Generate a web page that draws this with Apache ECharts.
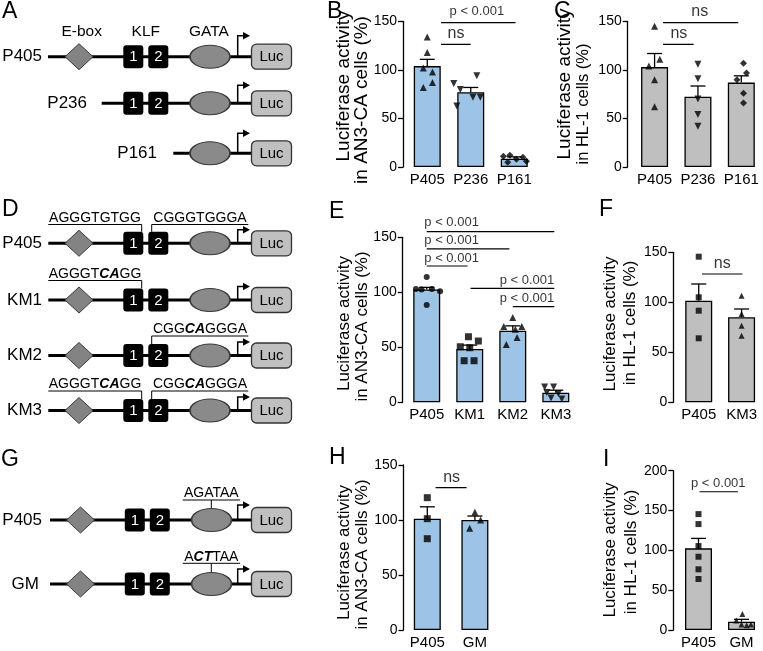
<!DOCTYPE html>
<html><head><meta charset="utf-8">
<script src="https://cdn.jsdelivr.net/npm/echarts@6.0.0/dist/echarts.min.js"></script>
<style>html,body{margin:0;padding:0;background:#fff}#c{width:763px;height:651px}</style>
</head><body><div id="c"></div>
<script>
const FONT = '"Liberation Sans", Arial, Helvetica, sans-serif';
const BLUE = '#9dc3e6', GREY = '#bfbfbf';

// ---------------- DATA ----------------
// Panel B (AN3-CA, deletion constructs)
const bCats = ['P405', 'P236', 'P161'];
const bMean = [104, 77, 8.5];
const bErrTop = [111, 82, 10.5];
const bP405 = [134, 118, 102, 98, 82, 87];
const bP405Jit = [0, 0, -0.09, 0.12, -0.09, 0.12];
const bP236 = [86, 94, 80, 72, 72, 63];
const bP236Jit = [-0.39, 0.14, -0.24, 0.05, 0.22, -0.32];
const bP161 = [11, 12, 8, 10, 5, 6];
const bP161Jit = [-0.25, -0.1, 0.05, 0.2, -0.15, 0.28];

// Panel C (HL-1, deletion constructs)
const cCats = ['P405', 'P236', 'P161'];
const cMean = [103, 72.5, 87];
const cErrTop = [117, 83.5, 94];
const cP405 = [145, 111, 104, 90, 62];
const cP405Jit = [0, 0.12, -0.13, 0, 0];
const cP236 = [106, 91, 70, 54, 42];
const cP236Jit = [0, 0, 0, 0, 0];
const cP161 = [107, 97, 90, 76, 66];
const cP161Jit = [0.05, 0.12, -0.1, 0.05, 0.05];

// Panel E (AN3-CA, KLF mutants)
const eCats = ['P405', 'KM1', 'KM2', 'KM3'];
const eMean = [102.5, 48.5, 65, 8.7];
const eErrTop = [104.5, 52, 69.5, 11];
const eP405 = [114, 103, 102.5, 103, 101, 88.5];
const eP405Jit = [0, -0.25, -0.12, 0.12, 0.31, 0];
const eKM1 = [59.6, 55.7, 50.5, 49.6, 37.8, 37.8];
const eKM1Jit = [-0.03, 0.2, -0.22, 0, -0.13, 0.1];
const eKM2 = [77, 69, 69, 66.5, 59, 52.5];
const eKM2Jit = [0, -0.21, 0.21, 0.06, 0.1, -0.15];
const eKM3 = [14, 14, 9, 8, 4, 3];
const eKM3Jit = [-0.26, -0.05, -0.21, 0.06, -0.11, 0.14];

// Panel F (HL-1, KLF mutant)
const fCats = ['P405', 'KM3'];
const fMean = [101.6, 85];
const fErrTop = [118.3, 93.3];
const fP405 = [145.6, 105, 91.6, 64];
const fP405Jit = [0, 0, 0, 0];
const fKM3 = [106.6, 88.3, 76.6, 66.6];
const fKM3Jit = [0, 0, 0, 0];

// Panel H (AN3-CA, GATA mutant)
const hCats = ['P405', 'GM'];
const hMean = [101.2, 100];
const hErrTop = [112, 103.6];
const hP405 = [120.3, 101.2, 83];
const hP405Jit = [0, 0, 0];
const hGM = [107, 100, 92.5];
const hGMJit = [0, 0.12, -0.11];

// Panel I (HL-1, GATA mutant)
const iCats = ['P405', 'GM'];
const iMean = [102.5, 10.4];
const iErrTop = [115, 13.4];
const iP405 = [145.5, 133, 105.4, 92, 76.2, 64];
const iP405Jit = [0, 0, 0, 0, 0, 0];
const iGM = [20, 12, 7, 6, 7];
const iGMJit = [0.02, -0.12, 0, 0.12, 0.22];

// axis ranges / tick labels
const yMaxStd = 150, yMaxI = 200, yStep = 50;

// significance annotations: [x1, x2, yLine, text, textX, textY, align]
const bSig = [[0.317, 2.03, 148.8, 'p < 0.001', 1.14, 160, 'center'], [0.317, 1.0, 126.5, 'ns', 0.66, 137.5, 'center']];
const cSig = [[0.196, 1.93, 148.8, 'ns', 1.04, 160, 'center'], [0.196, 0.9, 126.5, 'ns', 0.56, 137.5, 'center']];
const eSig = [[0, 2.965, 155.1, 'p < 0.001', -0.056, 163.3, 'left'], [0, 1.92, 139.4, 'p < 0.001', -0.056, 146.9, 'left'],
              [0, 0.95, 123.9, 'p < 0.001', -0.056, 130.9, 'left'], [1.02, 2.965, 103.6, 'p < 0.001', 2.965, 111.2, 'right'],
              [2.0, 2.965, 86.9, 'p < 0.001', 2.965, 94.5, 'right']];
const fSig = [[0.077, 1.02, 128.3, 'ns', 0.55, 138.5, 'center']];
const hSig = [[0.174, 0.826, 129.4, 'ns', 0.51, 139, 'center']];
const iSig = [[0.023, 0.916, 173.6, 'p < 0.001', 0.46, 184.2, 'center']];

// ---------------- LAYOUT ----------------
const panels = [
  { cats: bCats, mean: bMean, err: bErrTop, color: BLUE, ymax: yMaxStd, sig: bSig,
    groups: [[bP405, bP405Jit, 'triangle', 7], [bP236, bP236Jit, 'tridown', 7], [bP161, bP161Jit, 'diamond', 7]],
    L: { axisX: 403, left: 405.5, band: 43.5, top: 21.5, bottom: 167 },
    title: ['Luciferase activity', 'in AN3-CA cells (%)'], tpos: [[344, 86, 19], [362, 100, 19]] },
  { cats: cCats, mean: cMean, err: cErrTop, color: GREY, ymax: yMaxStd, sig: cSig,
    groups: [[cP405, cP405Jit, 'triangle', 7], [cP236, cP236Jit, 'tridown', 7], [cP161, cP161Jit, 'diamond', 7]],
    L: { axisX: 627.7, left: 632.9, band: 43.65, top: 21.5, bottom: 167 },
    title: ['Luciferase activity', 'in HL-1 cells (%)'], tpos: [[565, 84, 19], [583, 104, 16.5]] },
  { cats: eCats, mean: eMean, err: eErrTop, color: BLUE, ymax: yMaxStd, sig: eSig,
    groups: [[eP405, eP405Jit, 'circle', 6], [eKM1, eKM1Jit, 'rect', 7], [eKM2, eKM2Jit, 'triangle', 7], [eKM3, eKM3Jit, 'tridown', 7]],
    L: { axisX: 402.7, left: 405.2, band: 43.03, top: 237.3, bottom: 402.3 },
    title: ['Luciferase activity', 'in AN3-CA cells (%)'], tpos: [[344, 323.5, 17], [362, 326.5, 17]] },
  { cats: fCats, mean: fMean, err: fErrTop, color: GREY, ymax: yMaxStd, sig: fSig,
    groups: [[fP405, fP405Jit, 'rect', 6], [fKM3, fKM3Jit, 'triangle', 6]],
    L: { axisX: 673.3, left: 677.3, band: 43.3, top: 252.3, bottom: 402.3 },
    title: ['Luciferase activity', 'in HL-1 cells (%)'], tpos: [[610, 324, 17], [630, 323, 17]] },
  { cats: hCats, mean: hMean, err: hErrTop, color: BLUE, ymax: yMaxStd, sig: hSig,
    groups: [[hP405, hP405Jit, 'rect', 7], [hGM, hGMJit, 'triangle', 7]],
    L: { axisX: 403.5, left: 403.5, band: 47.6, top: 465, bottom: 630 },
    title: ['Luciferase activity', 'in AN3-CA cells (%)'], tpos: [[344, 552.5, 17], [362, 554.5, 17]] },
  { cats: iCats, mean: iMean, err: iErrTop, color: GREY, ymax: yMaxI, sig: iSig,
    groups: [[iP405, iP405Jit, 'rect', 6], [iGM, iGMJit, 'triangle', 6]],
    L: { axisX: 673.3, left: 677, band: 44, top: 470.7, bottom: 630 },
    title: ['Luciferase activity', 'in HL-1 cells (%)'], tpos: [[610, 550, 17], [631, 552, 17]] }
];

function errRender(params, api) {
  const x = api.value(0);
  const b = api.coord([x, api.value(1)]);
  const t = api.coord([x, api.value(2)]);
  return { type: 'group', children: [
    { type: 'line', shape: { x1: b[0], y1: b[1], x2: t[0], y2: t[1] }, style: { stroke: '#000', lineWidth: 1.3 } },
    { type: 'line', shape: { x1: t[0] - 7.5, y1: t[1], x2: t[0] + 7.5, y2: t[1] }, style: { stroke: '#000', lineWidth: 1.3 } }
  ]};
}

const grid = [], xAxis = [], yAxis = [], series = [], graphic = [];

function txt(x, y, s, size, opt) {
  opt = opt || {};
  return { type: 'text', x: x, y: y, rotation: opt.rot || 0, silent: true, z: 10,
    style: { text: s, fontSize: size, fontFamily: FONT, fill: opt.fill || '#000',
      fontWeight: opt.weight || 'normal',
      align: opt.align || 'center', verticalAlign: opt.va || 'middle',
      textAlign: opt.align || 'center', textVerticalAlign: opt.va || 'middle',
      rich: opt.rich } };
}

panels.forEach((p, i) => {
  const L = p.L, cx = 2 * i, vx = 2 * i + 1;
  grid.push({ left: L.left, top: L.top, width: L.band * p.cats.length, height: L.bottom - L.top });
  xAxis.push({ gridIndex: i, type: 'category', data: p.cats, axisLine: { show: false, onZero: false }, axisTick: { show: false },
    axisLabel: { color: '#000', fontSize: 15, fontFamily: FONT, margin: 5, interval: 0 } });
  xAxis.push({ gridIndex: i, type: 'value', min: -0.5, max: p.cats.length - 0.5, show: false, axisLine: { onZero: false } });
  yAxis.push({ gridIndex: i, type: 'value', min: 0, max: p.ymax, interval: yStep, offset: L.left - L.axisX,
    splitLine: { show: false },
    axisLine: { show: true, onZero: false, lineStyle: { color: '#000', width: 1.3 } },
    axisTick: { show: true, length: 5, lineStyle: { color: '#000', width: 1.3 } },
    axisLabel: { color: '#000', fontSize: 14, fontFamily: FONT, margin: 6 } });
  series.push({ type: 'bar', xAxisIndex: cx, yAxisIndex: i, data: p.mean, barWidth: 27, silent: true,
    itemStyle: { color: p.color, borderColor: '#000', borderWidth: 1.3 } });
  series.push({ type: 'custom', xAxisIndex: cx, yAxisIndex: i, z: 3, silent: true,
    data: p.mean.map((m, k) => [k, m, p.err[k]]), renderItem: errRender });
  p.groups.forEach((g, k) => {
    const down = g[2] === 'tridown';
    series.push({ type: 'scatter', xAxisIndex: vx, yAxisIndex: i, z: 5, silent: true, clip: false,
      symbol: down ? 'triangle' : g[2], symbolRotate: down ? 180 : 0, symbolSize: g[3],
      itemStyle: { color: '#000' }, data: g[0].map((v, n) => [k + g[1][n], v]) });
  });
  p.sig.forEach(s => {
    series.push({ type: 'line', xAxisIndex: vx, yAxisIndex: i, z: 4, silent: true, clip: false, symbol: 'none',
      lineStyle: { color: '#000', width: 1.2 }, data: [[s[0], s[2]], [s[1], s[2]]] });
  });
  series.push({ type: 'scatter', xAxisIndex: vx, yAxisIndex: i, z: 6, silent: true, clip: false, symbolSize: 0,
    itemStyle: { color: 'transparent' },
    data: p.sig.map(s => ({ value: [s[4], s[5]],
      label: { show: true, position: 'inside', formatter: s[3], align: s[6], verticalAlign: 'middle',
        fontSize: s[3] === 'ns' ? 16 : 13, fontFamily: FONT, color: '#000' } })) });
  p.title.forEach((t, k) => graphic.push(txt(p.tpos[k][0], p.tpos[k][1], t, p.tpos[k][2], { rot: Math.PI / 2 })));
});

// ---------------- SCHEMATICS ----------------
function construct(y, o) {
  const dx = o.dx || 0, ah = o.ah || 20;
  const els = [];
  els.push({ type: 'line', shape: { x1: o.x0, y1: y, x2: 251, y2: y }, style: { stroke: '#000', lineWidth: 3 } });
  if (o.ebox) els.push({ type: 'polygon', shape: { points: [[79 + dx, y - 13], [93 + dx, y], [79 + dx, y + 13], [65 + dx, y]] },
    style: { fill: '#838383', stroke: '#3a3a3a', lineWidth: 1 } });
  if (o.klf) [0, 1].forEach(k => {
    els.push({ type: 'rect', shape: { x: 123.3 + dx + 25 * k, y: y - 11.5, width: 20, height: 23, r: 3 }, style: { fill: '#000' } });
    els.push(txt(133.3 + dx + 25 * k, y + 0.5, String(k + 1), 15, { fill: '#fff' }));
  });
  els.push({ type: 'circle', x: 210 + dx, y: y, scaleX: 20 / 11.5, shape: { cx: 0, cy: 0, r: 11.5 },
    style: { fill: '#8a8a8a', stroke: '#3a3a3a', lineWidth: 1, strokeNoScale: true } });
  els.push({ type: 'polyline', shape: { points: [[237.7, y], [237.7, y - ah], [244, y - ah]] },
    style: { stroke: '#000', lineWidth: 1.5, fill: null } });
  els.push({ type: 'polygon', shape: { points: [[243, y - ah - 3.8], [250, y - ah], [243, y - ah + 3.8]] }, style: { fill: '#000' } });
  els.push({ type: 'rect', shape: { x: 251.5, y: y - 12.5, width: 40, height: 25, r: 5 },
    style: { fill: '#c0c0c0', stroke: '#333', lineWidth: 1.3 } });
  els.push(txt(271.5, y + 0.5, 'Luc', 15));
  els.push(txt(o.lx, y, o.label, 17, { align: 'right' }));
  els.forEach(e => { e.silent = true; e.z = e.z || 8; });
  return els;
}
const richSeq = {
  n: { fontSize: 14, fontFamily: FONT, fill: '#000', color: '#000' },
  b: { fontSize: 14, fontFamily: FONT, fill: '#000', color: '#000', fontWeight: 'bold', fontStyle: 'italic' }
};
function seq(cx, ul, x1, x2, str, connX, connY2) {
  const els = [];
  els.push(txt(cx, ul - 6.5, str, 14, { rich: richSeq }));
  els.push({ type: 'line', silent: true, shape: { x1: x1, y1: ul, x2: x2, y2: ul }, style: { stroke: '#000', lineWidth: 1 } });
  els.push({ type: 'line', silent: true, shape: { x1: connX, y1: ul, x2: connX, y2: connY2 }, style: { stroke: '#000', lineWidth: 1 } });
  return els;
}

// Panel A
graphic.push(...construct(56.7, { x0: 48, ebox: true, klf: true, label: 'P405', lx: 42, ah: 21 }));
graphic.push(...construct(103.3, { x0: 101.7, klf: true, label: 'P236', lx: 87, ah: 18 }));
graphic.push(...construct(153.3, { x0: 173.3, label: 'P161', lx: 157, ah: 20 }));
graphic.push(txt(81.7, 31.7, 'E-box', 15.5), txt(145.8, 31.7, 'KLF', 15.5), txt(209, 31.7, 'GATA', 15.5));

// Panel D
const dRows = [[243.3, 'P405'], [300, 'KM1'], [355.5, 'KM2'], [410.5, 'KM3']];
dRows.forEach(r => graphic.push(...construct(r[0], { x0: 48.3, ebox: true, klf: true, label: r[1], lx: 42, ah: 13.5 })));
graphic.push(...seq(95, 224.5, 48.3, 141.7, '{n|AGGGTGTGG}', 141.7, 243.3 - 11.5));
graphic.push(...seq(200, 224.5, 151.7, 248.3, '{n|CGGGTGGGA}', 151.7, 243.3 - 11.5));
graphic.push(...seq(95, 280.5, 48.3, 141.7, '{n|AGGGT}{b|CA}{n|GG}', 141.7, 300 - 11.5));
graphic.push(...seq(200, 336, 151.7, 248.3, '{n|CGG}{b|CA}{n|GGGA}', 151.7, 355.5 - 11.5));
graphic.push(...seq(95, 391, 48.3, 141.7, '{n|AGGGT}{b|CA}{n|GG}', 141.7, 410.5 - 11.5));
graphic.push(...seq(200, 391, 151.7, 248.3, '{n|CGG}{b|CA}{n|GGGA}', 151.7, 410.5 - 11.5));

// Panel G
graphic.push(...construct(520, { x0: 50, ebox: true, klf: true, label: 'P405', lx: 42, ah: 15, dx: 1.5 }));
graphic.push(...construct(584, { x0: 50, ebox: true, klf: true, label: 'GM', lx: 39, ah: 15, dx: 1.5 }));
graphic.push(...seq(211.3, 500, 182.7, 240, '{n|AGATAA}', 211.3, 520 - 11.5));
graphic.push(...seq(211.3, 563.3, 182.7, 240, '{n|A}{b|CT}{n|TAA}', 211.3, 584 - 11.5));

// Panel letters
[['A', 2, 0], ['B', 327, 0], ['C', 554, 0], ['D', 2, 198], ['E', 329, 200], ['F', 599, 198], ['G', 1, 448], ['H', 329, 446], ['I', 603, 448]]
  .forEach(l => graphic.push(txt(l[1], l[2], l[0], 23, { align: 'left', va: 'top' })));

const chart = echarts.init(document.getElementById('c'), null, { renderer: 'canvas' });
chart.setOption({
  animation: false,
  textStyle: { fontFamily: FONT },
  grid: grid, xAxis: xAxis, yAxis: yAxis, series: series,
  graphic: { elements: graphic }
});
</script></body></html>
